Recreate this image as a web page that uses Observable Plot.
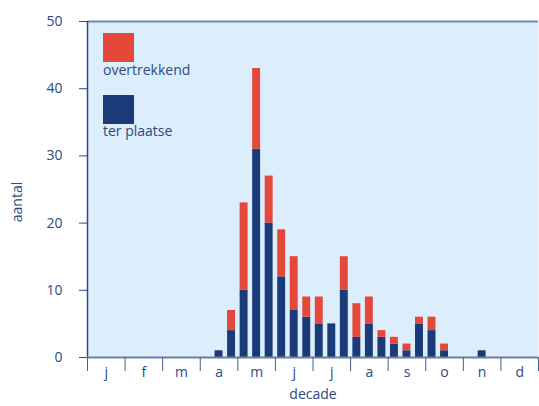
<!DOCTYPE html>
<html>
<head>
<meta charset="utf-8">
<script src="https://cdn.jsdelivr.net/npm/d3@7"></script>
<script src="https://cdn.jsdelivr.net/npm/@observablehq/plot@0.6"></script>
<style>
  html, body { margin: 0; padding: 0; background: #fff; }
  #wrap { position: relative; width: 539px; height: 406px; overflow: hidden; font-family: "Open Sans", sans-serif; }
  .sw { position: absolute; width: 31px; height: 29px; }
  .lt { position: absolute; font-size: 14px; color: #2e4a80; line-height: 1; white-space: nowrap; }
  #ylab { position: absolute; left: 17px; top: 202px; font-size: 14px; color: #2e4a80; line-height: 1; white-space: nowrap; transform: translate(-50%, -50%) rotate(-90deg); }
</style>
</head>
<body>
<div id="wrap"></div>
<script>
const months = ["j","f","m","a","m","j","j","a","s","o","n","d"];
const series = ["ter plaatse", "overtrekkend"];
const colors = ["#1a3a78", "#e5473a"];
// values per decade (36 decades, 3 per month)
const terPlaatse = [0,0,0, 0,0,0, 0,0,0, 0,1,4, 10,31,20, 12,7,6, 5,5,10, 3,5,3, 2,1,5, 4,1,0, 0,1,0, 0,0,0];
const overtrekkend = [0,0,0, 0,0,0, 0,0,0, 0,0,3, 13,12,7, 7,8,3, 4,0,5, 5,4,1, 1,1,1, 2,1,0, 0,0,0, 0,0,0];
const yTicks = [0,10,20,30,40,50];

const rows = [];
terPlaatse.forEach((v, i) => rows.push({decade: i, type: series[0], value: v}));
overtrekkend.forEach((v, i) => rows.push({decade: i, type: series[1], value: v}));

const boundaries = d3.range(0, 37, 3);
const mids = months.map((m, i) => i * 3 + 1.5);
const textColor = "#2e4a80";

const chart = Plot.plot({
  width: 539,
  height: 406,
  marginLeft: 87,
  marginRight: 1,
  marginTop: 21,
  marginBottom: 49,
  style: {fontFamily: "'Open Sans', sans-serif", color: textColor, background: "#fff"},
  x: {domain: [0, 36], axis: null},
  y: {domain: [0, 50], axis: null},
  color: {domain: series, range: colors},
  marks: [
    Plot.frame({fill: "#dcedfb", stroke: "none"}),
    Plot.rectY(rows, {x: "decade", interval: 1, y: "value", fill: "type", insetLeft: 2.3, insetRight: 2.3}),
    Plot.ruleY([50], {stroke: "#7088b0", strokeWidth: 2}),
    Plot.ruleX([0], {stroke: "#2e4a80", strokeWidth: 1.5}),
    Plot.axisY({ticks: yTicks, tickSize: 8, tickPadding: 17, fontSize: 14, stroke: textColor, fill: textColor, label: null}),
    Plot.ruleY([0], {stroke: "#6d7fa0", strokeWidth: 2}),
    Plot.axisX({ticks: boundaries, tickSize: 14, tickFormat: () => "", stroke: "#4a5f8a", label: null}),
    Plot.axisX({ticks: mids, tickSize: 0, tickPadding: 10, fontSize: 14, fill: textColor, tickFormat: d => months[(d - 1.5) / 3], label: null}),
    Plot.text(["decade"], {frameAnchor: "bottom", dy: 41.5, fontSize: 14, fill: textColor})
  ]
});

const wrap = document.getElementById("wrap");
wrap.appendChild(chart);

const ylab = document.createElement("div");
ylab.id = "ylab";
ylab.textContent = "aantal";
wrap.appendChild(ylab);

// legend inside plot area
const legend = [
  {label: series[1], color: colors[1], top: 33, textTop: 63},
  {label: series[0], color: colors[0], top: 95, textTop: 124}
];
legend.forEach(l => {
  const s = document.createElement("div");
  s.className = "sw";
  s.style.left = "103px";
  s.style.top = l.top + "px";
  s.style.background = l.color;
  wrap.appendChild(s);
  const t = document.createElement("div");
  t.className = "lt";
  t.style.left = "103px";
  t.style.top = l.textTop + "px";
  t.textContent = l.label;
  wrap.appendChild(t);
});
</script>
</body>
</html>
